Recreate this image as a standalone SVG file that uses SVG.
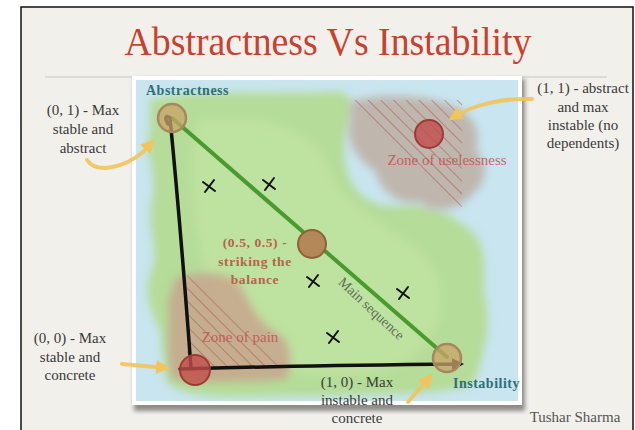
<svg xmlns="http://www.w3.org/2000/svg" width="635" height="430" viewBox="0 0 635 430">
<defs>
<style>
.lbl{font-family:"Liberation Serif","DejaVu Serif",serif;font-size:15px;fill:#3a3a3a;text-anchor:middle}
.axis{font-family:"Liberation Serif","DejaVu Serif",serif;font-size:14px;font-weight:bold;fill:#2f6f7a;letter-spacing:0.5px}
.zone{font-family:"Liberation Serif","DejaVu Serif",serif;font-size:15px;fill:#c0504d;fill-opacity:0.85;text-anchor:middle}
.mid{font-family:"Liberation Serif","DejaVu Serif",serif;font-size:13.5px;font-weight:bold;fill:#b7624c;text-anchor:middle;letter-spacing:0.6px}
.yarrow{fill:none;stroke:#f1c45c;stroke-width:4;stroke-linecap:round;stroke-opacity:0.9}
.xmark{fill:none;stroke:#111;stroke-width:2;stroke-linecap:round}
.tan{fill:#c9a46a;fill-opacity:0.75;stroke:#a8875c;stroke-width:2.5}
.red{fill:#c24d4a;fill-opacity:0.8;stroke:#9e3a35;stroke-width:2}
</style>
<filter id="soft" x="-20%" y="-20%" width="140%" height="140%"><feGaussianBlur stdDeviation="4"/></filter>
<filter id="shadow" x="-10%" y="-10%" width="120%" height="120%"><feGaussianBlur stdDeviation="2"/></filter>
<pattern id="hatch" patternUnits="userSpaceOnUse" width="9" height="9" patternTransform="rotate(-45)">
<line x1="0" y1="0" x2="0" y2="9" stroke="#a8504a" stroke-width="1"/>
</pattern>
<marker id="yhead" markerUnits="userSpaceOnUse" markerWidth="16" markerHeight="16" refX="10" refY="8" orient="auto">
<path d="M0,1 L14,8 L0,15 Z" fill="#f1c45c"/>
</marker>
<marker id="bhead" markerUnits="userSpaceOnUse" markerWidth="14" markerHeight="14" refX="8" refY="7" orient="auto">
<path d="M0,1 L12,7 L0,13 Z" fill="#111"/>
</marker>
<path id="x" d="M-6,-4 L6,5 M-4,6 L5,-6"/>
</defs>

<rect width="635" height="430" fill="#ffffff"/>
<rect x="21" y="7" width="612" height="423" fill="#f2f0eb"/>
<path d="M21,430 L21,7 L633,7 L633,430" fill="none" stroke="#111" stroke-width="1.5"/>

<text x="328" y="55" font-family="'Liberation Serif','DejaVu Serif',serif" font-size="41" fill="#c8412f" text-anchor="middle" textLength="407" lengthAdjust="spacingAndGlyphs">Abstractness Vs Instability</text>

<line x1="45" y1="77" x2="132" y2="77" stroke="#c9c6bf" stroke-width="1.2"/>
<line x1="522" y1="77" x2="607" y2="77" stroke="#c9c6bf" stroke-width="1.2"/>

<g id="picture">
<rect x="134" y="79" width="391" height="332" fill="#8e8c88" filter="url(#shadow)"/>
<rect x="132" y="76" width="390" height="329" fill="#ffffff"/>
<rect x="136" y="80" width="382" height="321" fill="#c8e5f0"/>
<path d="M150,100 C200,88 260,95 330,92 C362,90 350,112 345,140 C340,180 362,210 400,206 C432,202 452,215 472,232 C492,252 480,282 486,302 C492,332 482,362 472,386 C420,398 330,395 250,397 C200,398 172,392 166,380 L160,330 C150,310 142,290 152,270 C160,250 146,230 152,200 C158,170 142,150 150,130 Z" fill="#b5dc98" filter="url(#soft)"/>
<path d="M200,120 C260,110 320,130 330,170 C350,220 420,230 440,280 C450,330 420,370 360,375 C280,380 220,360 210,300 C200,240 180,160 200,120 Z" fill="#c4e6a4" fill-opacity="0.6" filter="url(#soft)"/>
</g>

<g id="zone-uselessness">
<path d="M350,102 C380,92 430,95 452,106 C472,112 482,132 476,150 C490,165 486,186 470,196 C460,212 430,214 420,202 C400,206 380,192 376,172 C360,162 344,142 350,122 Z" fill="#bdaea2" fill-opacity="0.85" filter="url(#soft)"/>
<path d="M345,100 L462,100 L462,208 Z" fill="url(#hatch)"/>
<circle cx="429" cy="134" r="14" class="red"/>
<text x="447" y="165" class="zone">Zone of uselessness</text>
</g>

<g id="zone-pain">
<path d="M176,278 C200,270 230,272 240,286 C250,302 256,322 276,332 C293,342 293,366 286,379 C250,383 200,383 172,379 C165,350 170,320 168,300 Z" fill="#c8a58e" fill-opacity="0.85" filter="url(#soft)"/>
<path d="M187,275 L187,368 L287,368 Z" fill="url(#hatch)"/>
<text x="240" y="342" class="zone">Zone of pain</text>
</g>

<g id="connectors">
<line x1="172" y1="118" x2="447" y2="357" stroke="#4a9b2f" stroke-width="4" stroke-linecap="round"/>
<path d="M168,124 C164,118 166,114 170,118 C178,200 186,300 191,368" fill="none" stroke="#111" stroke-width="3.5" stroke-linecap="round"/>
<path d="M180,369 C280,366 380,365 460,364" fill="none" stroke="#111" stroke-width="3.5" stroke-linecap="round" marker-end="url(#bhead)"/>
<path d="M87,160 C96,174 124,168 143,152 L152,142" class="yarrow" marker-end="url(#yhead)"/>
<path d="M532,99 C504,98 474,104 452,118" class="yarrow" marker-end="url(#yhead)"/>
<path d="M122,364 L166,368" class="yarrow" marker-end="url(#yhead)"/>
<path d="M408,402 L430,377" class="yarrow" marker-end="url(#yhead)"/>
</g>

<g id="marks">
<use href="#x" x="209" y="186" class="xmark"/>
<use href="#x" x="269" y="184" class="xmark"/>
<use href="#x" x="313" y="281" class="xmark"/>
<use href="#x" x="403" y="293" class="xmark"/>
<use href="#x" x="333" y="337" class="xmark"/>
</g>

<g id="node-abstract">
<circle cx="172" cy="118" r="14" class="tan"/>
<text x="146" y="95" class="axis">Abstractness</text>
</g>
<g id="node-mid">
<circle cx="312" cy="244" r="14" fill="#b5885a" stroke="#8c6238" stroke-width="2"/>
<text class="mid"><tspan x="255" y="247">(0.5, 0.5) -</tspan><tspan x="255" y="266">striking the</tspan><tspan x="255" y="284">balance</tspan></text>
</g>
<g id="node-instab">
<circle cx="447" cy="358" r="14" class="tan"/>
<text x="453" y="388" class="axis">Instability</text>
</g>
<g id="node-origin">
<circle cx="195" cy="370" r="15" class="red"/>
</g>

<g id="labels">
<text x="83" y="115" class="lbl">(0, 1) - Max</text>
<text x="83" y="134" class="lbl">stable and</text>
<text x="83" y="153" class="lbl">abstract</text>

<text x="583" y="93" class="lbl">(1, 1) - abstract</text>
<text x="583" y="112" class="lbl">and max</text>
<text x="583" y="130" class="lbl">instable (no</text>
<text x="583" y="148" class="lbl">dependents)</text>

<text x="70" y="343" class="lbl">(0, 0) - Max</text>
<text x="70" y="362" class="lbl">stable and</text>
<text x="70" y="380" class="lbl">concrete</text>

<text x="357" y="387" class="lbl">(1, 0) - Max</text>
<text x="357" y="405" class="lbl">instable and</text>
<text x="357" y="423" class="lbl">concrete</text>

<text x="371" y="313" font-family="'Liberation Serif','DejaVu Serif',serif" font-size="14" fill="#5d6e55" text-anchor="middle" transform="rotate(43 371 309)">Main sequence</text>

<text x="575" y="422" font-family="'Liberation Serif','DejaVu Serif',serif" font-size="15" fill="#555" text-anchor="middle">Tushar Sharma</text>
</g>
</svg>
